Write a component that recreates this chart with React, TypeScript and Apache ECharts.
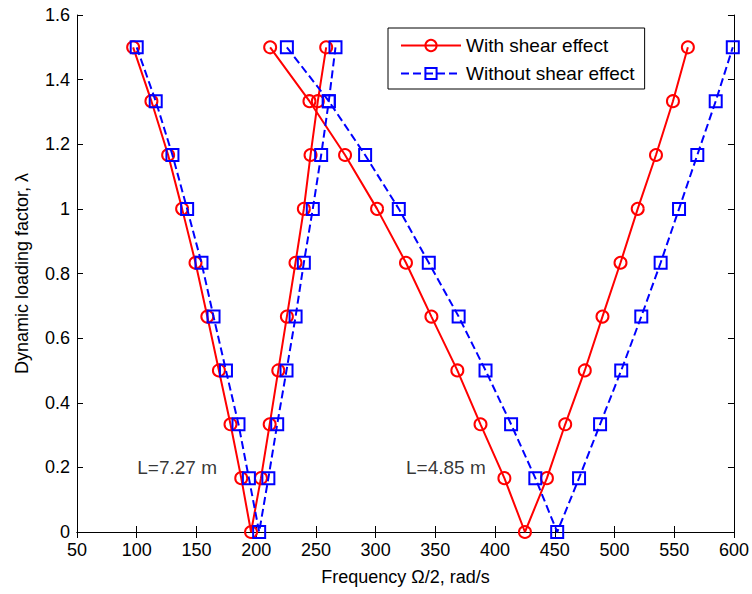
import React, { useEffect, useRef } from "react";
import * as echarts from "echarts";

// Dynamic loading factor levels (top of left branch -> bottom -> top of right branch)
const lambdaV = [1.5, 1.3333, 1.1667, 1.0, 0.8333, 0.6667, 0.5, 0.3333, 0.1667, 0,
  0.1667, 0.3333, 0.5, 0.6667, 0.8333, 1.0, 1.1667, 1.3333, 1.5];

// L = 7.27 m
const freqL727With = [97, 112.3, 126.3, 138, 149.2, 159.1, 168.8, 178.5, 187.5, 195.7,
  204, 211.3, 218.5, 225.7, 232.9, 239.9, 245.5, 251.6, 258.6];
const freqL727Without = [100, 115.9, 129.9, 142.2, 154.2, 164.3, 174.7, 185.2, 193.9, 202.5,
  210.2, 217.6, 225.4, 233, 239.9, 247.4, 254.4, 260.8, 266.4];

// L = 4.85 m
const freqL485With = [211.7, 244.6, 274.4, 301.2, 325.4, 346.7, 368.4, 387.8, 407.8, 425,
  443.4, 458.7, 475.1, 489.9, 505, 519.4, 534.7, 548.9, 561.4];
const freqL485Without = [225.7, 260.8, 291.2, 319.4, 344.5, 369.5, 392, 413.4, 433.7, 452,
  470.3, 487.9, 505.6, 522.4, 538.6, 554, 569.3, 584.7, 599];

const seriesNames = ["With shear effect", "Without shear effect"];

const annotationTexts = ["L=7.27 m", "L=4.85 m"];
const annotationX = [100, 325];
const annotationY = [0.2, 0.2];

const RED = "#ff0000";
const BLUE = "#0000ff";
const FONT = "'Liberation Sans', Arial, Helvetica, sans-serif";

function pairs(xs: number[], ys: number[]) {
  return xs.map((x, i) => [x, ys[i]]);
}

export default function App() {
  const ref = useRef<HTMLDivElement>(null);

  useEffect(() => {
    if (!ref.current) return;
    const chart = echarts.init(ref.current, undefined, { renderer: "svg" });

    const withStyle = (name: string) => ({
      name,
      type: "line" as const,
      symbol: "circle",
      symbolSize: 12,
      color: RED,
      itemStyle: { color: "rgba(255,255,255,0)", borderColor: RED, borderWidth: 2 },
      lineStyle: { color: RED, width: 2, type: "solid" as const },
      z: 2,
    });
    const withoutStyle = (name: string) => ({
      name,
      type: "line" as const,
      symbol: "rect",
      symbolSize: 12,
      color: BLUE,
      itemStyle: { color: "rgba(255,255,255,0)", borderColor: BLUE, borderWidth: 2 },
      lineStyle: { color: BLUE, width: 2, type: [8, 4] as any },
      z: 3,
    });

    const axisCommon = {
      axisLine: { show: true, lineStyle: { color: "#000", width: 1 } },
      axisTick: { show: true, inside: true, length: 6, lineStyle: { color: "#000" } },
      splitLine: { show: false },
    };

    chart.setOption({
      animation: false,
      backgroundColor: "#fff",
      textStyle: { fontFamily: FONT },
      grid: { left: 77, right: 17, top: 15, bottom: 62, containLabel: false },
      legend: {
        data: seriesNames,
        orient: "vertical",
        left: 388,
        top: 28,
        padding: [8, 10, 6, 12],
        itemWidth: 60,
        itemHeight: 14,
        itemGap: 9,
        borderColor: "#000",
        borderWidth: 1,
        backgroundColor: "#fff",
        textStyle: { fontSize: 19, color: "#000", fontFamily: FONT },
      },
      xAxis: [
        {
          type: "value",
          min: 50,
          max: 600,
          interval: 50,
          position: "bottom",
          ...axisCommon,
          axisLabel: { color: "#000", fontSize: 18, margin: 9, fontFamily: FONT },
          name: "Frequency Ω/2, rad/s",
          nameLocation: "middle",
          nameGap: 36,
          nameTextStyle: { color: "#000", fontSize: 18, fontFamily: FONT, verticalAlign: "top" },
        },
        {
          type: "value",
          min: 50,
          max: 600,
          interval: 50,
          position: "top",
          ...axisCommon,
          axisLabel: { show: false },
        },
      ],
      yAxis: [
        {
          type: "value",
          min: 0,
          max: 1.6,
          interval: 0.2,
          position: "left",
          ...axisCommon,
          axisLabel: { color: "#000", fontSize: 18, margin: 7, fontFamily: FONT },
          name: "Dynamic loading factor, λ",
          nameLocation: "middle",
          nameGap: 46,
          nameTextStyle: { color: "#000", fontSize: 18, fontFamily: FONT },
        },
        {
          type: "value",
          min: 0,
          max: 1.6,
          interval: 0.2,
          position: "right",
          ...axisCommon,
          axisLabel: { show: false },
        },
      ],
      series: [
        { ...withStyle(seriesNames[0]), data: pairs(freqL727With, lambdaV) },
        { ...withoutStyle(seriesNames[1]), data: pairs(freqL727Without, lambdaV) },
        { ...withStyle(seriesNames[0]), data: pairs(freqL485With, lambdaV) },
        { ...withoutStyle(seriesNames[1]), data: pairs(freqL485Without, lambdaV) },
        {
          name: "annotations",
          type: "scatter",
          symbolSize: 1,
          itemStyle: { color: "rgba(0,0,0,0)" },
          silent: true,
          data: annotationX.map((x, i) => ({ value: [x, annotationY[i]], name: annotationTexts[i] })),
          label: {
            show: true,
            position: "right",
            distance: 0,
            formatter: (p: any) => p.name,
            color: "#000",
            fontSize: 19,
            fontFamily: FONT,
          },
          z: 1,
        },
      ],
    });

    return () => chart.dispose();
  }, []);

  return (
    <div
      ref={ref}
      style={{ position: "absolute", left: 0, top: 0, width: 752, height: 594 }}
    />
  );
}
